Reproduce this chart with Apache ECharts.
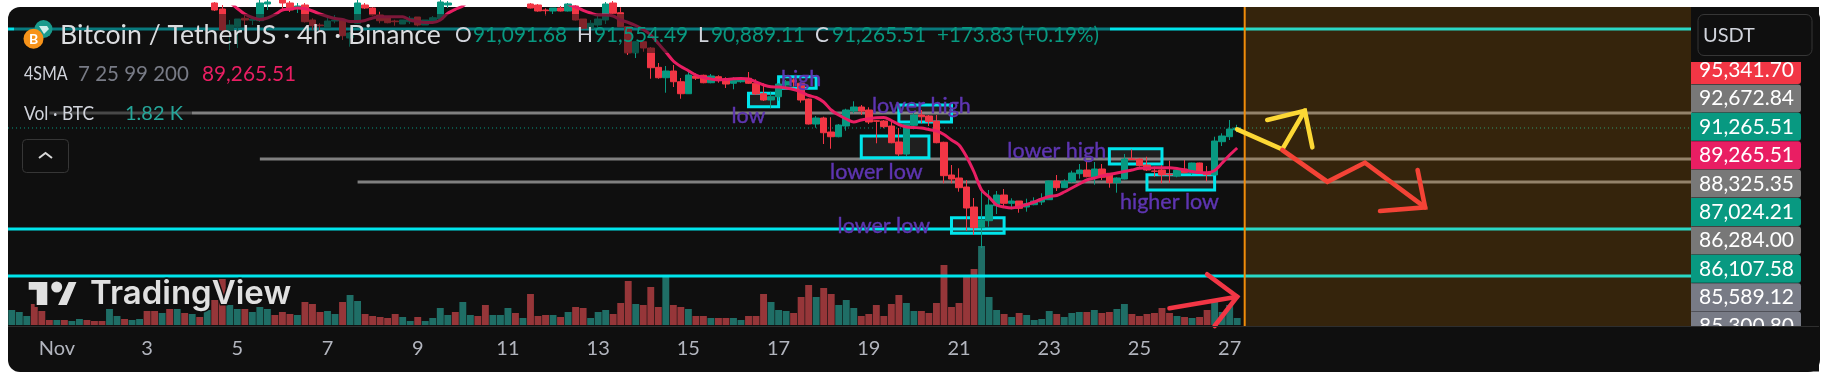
<!DOCTYPE html>
<html>
<head>
<meta charset="utf-8">
<style>
  html, body { margin: 0; padding: 0; background: #fff; overflow: hidden; }
  #card { position: absolute; left: 8px; top: 7px; width: 1812px; height: 365px; background: #0f0f0f; border-radius: 12px; }
  #main { position: absolute; left: 0; top: 0; width: 1831px; height: 382px; }
</style>
</head>
<body>
<div id="card"></div>
<div id="main"></div>
<script src="https://cdn.jsdelivr.net/npm/echarts@6/dist/echarts.min.js"></script>
<script>
  // candles are 4h bars, '-' means the bar sits above the visible price range
  const N = '-'
  const opens = [N,N,N,N,N,N,N,N,N,N,N,N,N,N,N,N,N,N,N,N,N,N,N,N,N,N,N,102515,101975,100085,100380,101140,100960,100920,102425,N,102785,102515,102065,102335,100985,100535,100290,100895,100960,99365,100690,102335,102065,101435,101190,100895,100625,100830,101255,100535,100830,101075,102335,N,N,N,N,N,N,N,N,N,N,102425,102335,101885,101795,102065,101795,102245,101075,100240,100535,100985,102515,101640,100380,98040,99030,98465,96725,95790,96395,95430,94350,95945,96010,95340,95880,95650,95290,95430,95740,95290,94350,93785,94080,95135,95585,95290,93875,91625,92165,90905,90480,91445,92795,93155,92885,91920,91895,91445,90005,88925,91508,92435,92345,91895,89978,87035,86765,85955,84155,82292,82922,84272,85235,84488,84695,84155,84362,84605,84812,86495,85892,86432,87152,87485,86828,87575,87188,86342,86675,88475,88475,87935,87395,87485,87125,86945,87575,87242,88115,87242,87035,90032,90482,91091.68]
  const closes = [N,N,N,N,N,N,N,N,N,N,N,N,N,N,N,N,N,N,N,N,N,N,N,N,N,N,N,101885,100085,100535,101075,100985,101075,102515,102605,N,102515,101885,102245,100830,100470,100470,100895,100985,99570,99815,102515,102065,101435,100920,100740,100830,100985,101140,100535,100985,101190,102605,102515,N,N,N,N,N,N,N,N,N,N,102065,101795,101820,102065,101795,102425,100985,100240,100690,101075,102425,101590,100380,98040,99030,98465,96690,95790,96395,95430,94350,96035,95740,95340,95945,95585,95225,95560,95740,95290,94325,93785,94080,95225,95430,95405,93785,91625,92165,90840,90480,91535,92885,93155,92795,91805,91870,91385,89940,88925,91600,92435,92280,91832,89942,86972,86675,85892,84065,82292,82985,84335,85235,84488,84695,84038,84452,84695,84875,86495,85892,86468,87215,87485,86882,87575,86828,86342,86765,88475,88448,87872,87485,87368,87035,87035,87485,87242,88115,87188,87062,90095,90545,91175,91265.51]
  const lows = [N,N,N,N,N,N,N,N,N,N,N,N,N,N,N,N,N,N,N,N,N,N,N,N,N,N,N,101795,99995,98285,98465,100535,100535,100805,101885,N,101885,101705,101615,100760,100085,99930,100265,100690,99185,98580,100625,101975,101370,100690,100690,100470,100625,100625,100420,100535,100805,101030,102065,N,N,N,N,N,N,N,N,N,N,102020,101730,101370,101525,101750,101750,100940,100200,99725,100355,100625,101525,100355,97835,97565,98130,95700,95700,94440,94955,93900,94325,95585,95290,95290,95340,94865,94750,95340,95225,94235,93695,93040,93720,94750,94985,93545,91580,91290,89825,89400,90430,91020,92590,92435,91625,89890,91240,89890,88745,88745,91148,91688,91445,89888,86288,86288,85532,82022,81635,80465,82382,83525,84182,83948,83642,83732,84308,84335,84785,85595,85865,86342,86702,86828,86162,86585,85892,85442,86648,88385,87782,87395,86882,86288,86342,86828,87188,87035,87125,86468,87008,89645,90185,90889.11]
  const highs = [N,N,N,N,N,N,N,N,N,N,N,N,N,N,N,N,N,N,N,N,N,N,N,N,N,N,N,102605,102335,100985,101075,101435,101165,103235,102965,N,102965,102695,102515,102515,101140,100690,101280,101435,100985,99905,102785,102515,102155,101730,101280,101010,100985,101345,101255,100985,101345,102785,102695,N,N,N,N,N,N,N,N,N,N,102515,102425,102040,102065,102245,102515,102335,101075,100985,101435,102605,102695,102130,100445,99095,99095,98555,97115,96845,96935,95765,96395,96190,96065,96125,96010,95830,95830,95830,96305,95650,95290,94530,95290,95585,95740,95340,93920,92345,92280,92230,91625,93000,93670,93335,93130,91985,91985,91920,91265,91625,92795,92885,92435,92435,90032,87935,87638,86585,84965,85622,85685,85595,85775,84938,84695,84902,85028,85388,86522,87035,86648,87422,88025,88322,88205,88025,87215,86828,88925,89348,88538,88682,87782,87935,88322,87638,88385,88142,88142,87845,90482,90788,91985,91554.49]

  // volume of each bar in BTC, and which side it closed on
  const volumes = [3900,3380,2340,5460,3640,1300,1300,1300,1040,1560,1300,1040,1040,4160,2340,1560,1300,1560,3640,3640,3120,4160,4160,3120,2860,2080,3900,6500,11960,5200,4160,4160,3380,4680,4160,2600,3380,2860,2600,5980,5460,3380,3640,2860,5980,7800,6240,2860,2340,2080,1820,2860,2080,1040,2080,1040,1820,4420,2600,3380,5980,2600,2340,5200,2600,2600,4420,3120,1820,8060,2340,2600,2600,2080,3380,4680,4420,1820,3380,3900,2860,5720,11440,5460,5200,9880,4680,12740,5200,4680,4160,2340,2340,1820,1820,1820,1820,1300,2340,2340,8060,5980,3900,3640,3120,7280,10400,7280,9620,8060,5200,6500,4420,2340,2860,5200,2340,5460,7800,5720,3640,3640,3120,5720,15600,4680,5720,12480,14560,20540,7280,3900,2860,2080,3120,2600,1300,1560,3640,2860,2080,3120,3380,3380,3900,3120,3380,4160,5460,2860,2340,2860,3120,4420,3120,2340,2080,1820,2080,3900,5980,3380,5200,1820]
  const volSides = 'UUUDDDUDUUDDDUUDUUDDUDUDUDUDDUUDUUUDDDUDDDUUDUUDDDDDUUDUUUUDUUDDUUUDUDDDUDUDDUUUDDDUDDDUDDUDDUDDUUDDDUUUDDDUDDUUUDDDDDDUUDDDDDDDDUUUDUDUUUUDUUUDUDDUUDDDDDDUDUDDUUUU'

  // SMA 7, null where it leaves the visible range
  const ma = [null,null,null,null,null,null,null,null,null,null,null,null,null,null,null,null,null,null,null,null,null,null,null,null,null,null,null,null,103505,102605,102020,101525,101210,101030,101165,101480,101885,101975,102065,102020,101795,101525,101300,101120,101030,100850,100850,100940,101165,101282,101282,101282,101282,100985,100850,100760,100760,100985,101588,101948,102245,102965,null,null,null,null,null,null,null,null,null,null,null,103235,102425,102155,101858,101615,101435,101435,101345,100985,100760,100490,100130,99635,98870,98105,97295,96800,96422,96035,95810,95675,95585,95630,95702,95720,95675,95405,95135,94973,94955,94865,94730,94505,94190,94010,93605,92885,92435,92075,91805,91985,92093,92183,92210,91940,91580,91355,91310,91265,91130,91000,90680,90185,89735,88682,87305,85685,85055,84335,84155,84065,84182,84380,84605,84875,85100,85190,85505,85865,86225,86585,86765,86945,87080,87215,87350,87485,87638,87665,87692,87692,87692,87620,87485,87350,87260,87242,87440,88115,88835,89465]

  const dayLabels = ['Nov','3','5','7','9','11','13','15','17','19','21','23','25','27']
  const firstDayBar = 6
  const barsPerLabel = 12
  const totalBars = 224
  const priceMax = 102155
  const priceMin = 73445

  // horizontal levels drawn on the chart, start < 0 means from the left edge
  const levelPrices = [100175, 92615, 88475, 86405, 82175, 77945]
  const levelStarts = [-1, 5.2, 32.8, 45.8, -1, -1]
  const levelColors = ['#00e5ec', '#808080', '#808080', '#808080', '#00e5ec', '#00e5ec']
  const lastPrice = 91265.51
  const zoneStart = 163.77

  // marked zones
  const boxLeft = [98, 102, 113.1, 118, 125, 146.1, 151]
  const boxRight = [102.3, 107.3, 122.1, 125.2, 132.1, 153.2, 160.3]
  const boxTop = [94388, 95882, 90545, 93335, 83192, 89402, 87062]
  const boxBottom = [93182, 94838, 88592, 91805, 81788, 88025, 85685]

  const noteTexts = ['low', 'high', 'lower high', 'lower low', 'lower low', 'lower high', 'higher low']
  const noteBars = [97.5, 105.1, 121, 114.5, 115.6, 139, 153.9]
  const notePrices = [92345, 95675, 93245, 87332, 82445, 89222, 84632]

  // hand drawn arrows: [bar, price] vertices
  const yellowTrend = [[162.8, 91148], [169, 89348], [172.3, 92822]]
  const yellowHead = [[167.4, 91985], [172.3, 92822], [173.4, 89528]]
  const redTrend = [[169, 89285], [175.1, 86432], [180.1, 88142], [187.5, 84128]]
  const redHead = [[186.7, 87485], [187.5, 84128], [182.4, 83795]]
  const volTrend = [[153.8, 75038], [163.3, 76082]]
  const volHead = [[159.1, 78098], [163.3, 76082], [160.1, 73445]]

  // price scale tags on the right, top to bottom
  const tagTexts = ['95,341.70', '92,672.84', '91,265.51', '89,265.51', '88,325.35', '87,024.21', '86,284.00', '86,107.58', '85,589.12', '85,300.80']
  const tagColors = ['#f23645', '#787878', '#089981', '#e91e63', '#787878', '#089981', '#787878', '#089981', '#787b86', '#787b86']

  const FONT = 'Lato, "Noto Sans", sans-serif'
  const GREEN = '#089981'
  const RED = '#f23645'

  const categories = []
  for (let i = 0; i < totalBars; i++) {
    const k = (i - firstDayBar) / barsPerLabel
    categories.push(Number.isInteger(k) && dayLabels[k] ? dayLabels[k] : '')
  }
  const candleData = opens.map((o, i) => [o, closes[i], lows[i], highs[i]])
  const volumeData = volumes.map((v, i) => ({
    value: v,
    itemStyle: { color: volSides[i] === 'U' ? '#1f6e66' : '#963639' }
  }))

  function oneShot(render) {
    return { type: 'custom', coordinateSystem: 'cartesian2d', xAxisIndex: 0, yAxisIndex: 0, clip: false, silent: true, animation: false, renderItem: render }
  }
  function indexData(n) {
    const out = []
    for (let i = 0; i < n; i++) out.push([i, priceMin])
    return out
  }
  function poly(api, pts, color) {
    return {
      type: 'polyline',
      shape: { points: pts.map(p => api.coord(p)) },
      style: { stroke: color, lineWidth: 4.6, fill: null, lineCap: 'round', lineJoin: 'miter' }
    }
  }
  // band edges of the category axis
  function leftEdge(api) {
    return api.coord([0, priceMin])[0] - api.size([1, 0])[0] / 2
  }
  function rightEdge(api) {
    return api.coord([totalBars - 1, priceMin])[0] + api.size([1, 0])[0] / 2
  }

  const arrowSet = [[yellowTrend, '#fdd835'], [yellowHead, '#fdd835'], [redTrend, '#f44336'], [redHead, '#f44336'], [volTrend, RED], [volHead, RED]]

  // fixed page furniture, everything that is not on the price or time scale
  const graphic = []
  function text(str, x, y, fill, size, extra) {
    graphic.push(Object.assign({
      type: 'text', x: x, y: y, z: 60, silent: true,
      style: { text: str, fill: fill, font: size + 'px ' + FONT, verticalAlign: 'middle' }
    }, extra || {}))
  }
  function rect(x, y, w, h, fill, z, r, stroke) {
    graphic.push({
      type: 'rect', z: z, silent: true,
      shape: { x: x, y: y, width: w, height: h, r: r || 0 },
      style: { fill: fill, stroke: stroke || null, lineWidth: stroke ? 1 : 0 }
    })
  }

  // legend backdrop dims whatever runs behind the legend rows
  rect(14, 14, 1096, 39, 'rgba(15,15,15,0.5)', 50)
  rect(14, 104, 178, 22, 'rgba(15,15,15,0.5)', 50)

  // symbol icons
  graphic.push({ type: 'circle', z: 55, silent: true, shape: { cx: 43.5, cy: 29, r: 9 }, style: { fill: '#1a9a8c' } })
  graphic.push({ type: 'polygon', z: 56, silent: true, shape: { points: [[39, 26], [47, 26], [49, 29], [44, 34]] }, style: { fill: '#cfeeea' } })
  graphic.push({ type: 'circle', z: 57, silent: true, shape: { cx: 33.5, cy: 38.7, r: 10 }, style: { fill: '#f7931a' } })
  text('B', 33.5, 39, '#fff', 14, { style: { text: 'B', fill: '#fff', font: 'bold 14px ' + FONT, align: 'center', verticalAlign: 'middle' } })

  text('Bitcoin / TetherUS · 4h · Binance', 60, 35, '#dcdde0', 26.7)
  text('O', 455, 35, '#d1d4dc', 20.8)
  text('91,091.68', 473, 35, GREEN, 20.8)
  text('H', 577, 35, '#d1d4dc', 20.8)
  text('91,554.49', 594, 35, GREEN, 20.8)
  text('L', 698, 35, '#d1d4dc', 20.8)
  text('90,889.11', 711, 35, GREEN, 20.8)
  text('C', 815, 35, '#d1d4dc', 20.8)
  text('91,265.51', 832, 35, GREEN, 20.8)
  text('+173.83 (+0.19%)', 937, 35, GREEN, 20.6)

  text('4SMA', 24, 74, '#d1d4dc', 20, { scaleX: 0.8 })
  text('7 25 99 200', 78, 74, '#787b86', 20.5)
  text('89,265.51', 202, 74, '#e91e63', 20.8)
  text('Vol · BTC', 24, 114, '#d1d4dc', 20, { scaleX: 0.87 })
  text('1.82 K', 125, 114, '#26a69a', 20)

  // collapse button
  rect(22.5, 139.5, 46, 33, 'rgba(0,0,0,0)', 55, 4, '#363636')
  graphic.push({
    type: 'polyline', z: 56, silent: true,
    shape: { points: [[39, 158], [45.5, 153], [52, 158]] },
    style: { stroke: '#d8d8d8', lineWidth: 2, fill: null }
  })

  // TradingView logo
  graphic.push({
    type: 'polygon', z: 56, silent: true,
    shape: { points: [[27.7, 281], [48.3, 281], [48.3, 306], [35.7, 306], [35.7, 290.7], [27.7, 290.7]] },
    style: { fill: '#e0e0e0', stroke: '#0f0f0f', lineWidth: 2 }
  })
  graphic.push({ type: 'circle', z: 56, silent: true, shape: { cx: 56.7, cy: 287, r: 5.5 }, style: { fill: '#e0e0e0' } })
  graphic.push({
    type: 'polygon', z: 56, silent: true,
    shape: { points: [[68, 281], [78, 281], [67.5, 306], [56.5, 306]] },
    style: { fill: '#e0e0e0', stroke: '#0f0f0f', lineWidth: 2 }
  })
  graphic.push({
    type: 'text', x: 90, y: 294, z: 56, silent: true,
    style: {
      text: 'TradingView', fill: '#e0e0e0', font: '600 33px Inter, Roboto, sans-serif', verticalAlign: 'middle',
      stroke: '#0f0f0f', lineWidth: 3
    }
  })

  // right hand price scale
  const tagTop = 56
  const tagStep = 28.4
  tagTexts.forEach((t, i) => {
    const top = tagTop + i * tagStep
    rect(1691, top, 110, tagStep - 0.4, tagColors[i], 70, [0, 3, 3, 0])
    graphic.push({
      type: 'text', x: 1794, y: top + tagStep / 2, z: 71, silent: true,
      style: { text: t, fill: '#fff', font: '21px ' + FONT, align: 'right', verticalAlign: 'middle' }
    })
  })
  rect(1691, 7, 128, 55, '#0f0f0f', 72)
  rect(1691, 326.5, 128, 45, '#0f0f0f', 72)
  rect(1698, 14.5, 114, 41, '#0f0f0f', 73, 6, '#363636')
  text('USDT', 1703, 36, '#d1d4dc', 20, { z: 74 })
  // time axis divider runs under the price scale too
  rect(8, 326, 1811, 1, '#2e2e2e', 73)

  const option = {
    backgroundColor: 'transparent',
    animation: false,
    textStyle: { fontFamily: FONT },
    grid: [
      { left: 8, right: 139, top: 7, height: 319 },
      { left: 8, right: 139, top: 7, height: 318 }
    ],
    xAxis: [
      {
        type: 'category', gridIndex: 0, data: categories, boundaryGap: true,
        axisLine: { show: false }, axisTick: { show: false }, splitLine: { show: false },
        axisLabel: { interval: 0, color: '#b2b5be', fontSize: 20, fontFamily: FONT, margin: 13, hideOverlap: false }
      },
      {
        type: 'category', gridIndex: 1, data: categories, boundaryGap: true,
        axisLine: { show: false }, axisTick: { show: false }, axisLabel: { show: false }, splitLine: { show: false }
      }
    ],
    yAxis: [
      { type: 'value', gridIndex: 0, min: priceMin, max: priceMax, show: false, splitLine: { show: false } },
      { type: 'value', gridIndex: 1, min: 0, max: 82680, show: false, splitLine: { show: false } }
    ],
    graphic: graphic,
    series: [
      {
        name: 'Vol', type: 'bar', xAxisIndex: 1, yAxisIndex: 1, z: 1, barWidth: 6.9, data: volumeData, silent: true
      },
      Object.assign(oneShot((params, api) => {
        const i = params.dataIndex
        const y = api.coord([0, levelPrices[i]])[1]
        const x1 = levelStarts[i] < 0 ? leftEdge(api) : api.coord([levelStarts[i], levelPrices[i]])[0]
        return {
          type: 'line',
          shape: { x1: x1, y1: y, x2: rightEdge(api), y2: y },
          style: { stroke: levelColors[i], lineWidth: 3 }
        }
      }), { name: 'levels', z: 2, data: indexData(levelPrices.length) }),
      Object.assign(oneShot((params, api) => {
        const y = api.coord([0, lastPrice])[1]
        return {
          type: 'line',
          shape: { x1: leftEdge(api), y1: y, x2: rightEdge(api), y2: y },
          style: { stroke: GREEN, lineWidth: 1, lineDash: [1, 3] }
        }
      }), { name: 'last', z: 2, data: indexData(1) }),
      Object.assign(oneShot((params, api) => {
        const i = params.dataIndex
        const a = api.coord([boxLeft[i], boxTop[i]])
        const b = api.coord([boxRight[i], boxBottom[i]])
        return {
          type: 'rect',
          shape: { x: a[0], y: a[1], width: b[0] - a[0], height: b[1] - a[1] },
          style: { stroke: '#00e5ec', lineWidth: 3, fill: 'rgba(255,255,255,0.07)' }
        }
      }), { name: 'boxes', z: 2, data: indexData(boxLeft.length) }),
      Object.assign(oneShot((params, api) => {
        const a = api.coord([zoneStart, priceMax])
        const b = api.coord([zoneStart, priceMin])
        return {
          type: 'group',
          children: [
            { type: 'rect', shape: { x: a[0], y: a[1], width: rightEdge(api) - a[0], height: b[1] - a[1] }, style: { fill: 'rgba(255,152,0,0.16)' } },
            { type: 'line', shape: { x1: a[0], y1: a[1], x2: a[0], y2: b[1] }, style: { stroke: '#f08c0a', lineWidth: 2 } }
          ]
        }
      }), { name: 'zone', z: 3, data: indexData(1) }),
      {
        name: 'BTCUSDT', type: 'candlestick', xAxisIndex: 0, yAxisIndex: 0, z: 4, barWidth: 7, silent: true,
        data: candleData,
        itemStyle: { color: GREEN, color0: RED, borderColor: GREEN, borderColor0: RED, borderWidth: 1 }
      },
      {
        name: 'SMA 7', type: 'line', xAxisIndex: 0, yAxisIndex: 0, z: 5, data: ma, smooth: 0.3, silent: true,
        showSymbol: false, connectNulls: false, lineStyle: { color: '#e91e63', width: 3 }
      },
      Object.assign(oneShot((params, api) => {
        const a = arrowSet[params.dataIndex]
        return poly(api, a[0], a[1])
      }), { name: 'arrows', z: 6, data: indexData(arrowSet.length) }),
      Object.assign(oneShot((params, api) => {
        const i = params.dataIndex
        const p = api.coord([noteBars[i], notePrices[i]])
        return {
          type: 'text', x: p[0], y: p[1],
          style: { text: noteTexts[i], fill: '#5e35b1', font: '21.5px ' + FONT, align: 'center', verticalAlign: 'middle', stroke: '#5e35b1', lineWidth: 0.4 }
        }
      }), { name: 'notes', z: 7, data: indexData(noteTexts.length) })
    ]
  }

  const chart = echarts.init(document.getElementById('main'))
  chart.setOption(option)
</script>
</body>
</html>
